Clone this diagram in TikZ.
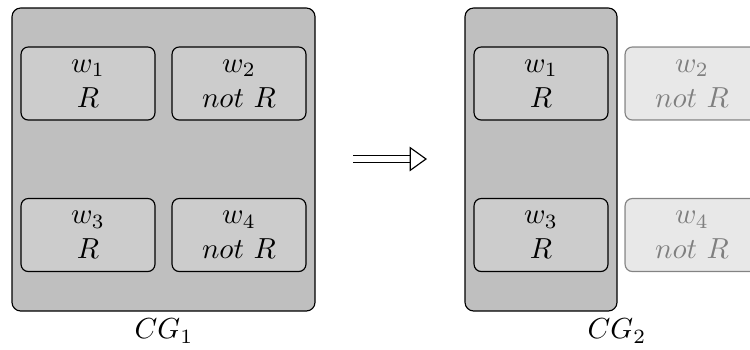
\documentclass[tikz,border=0pt]{standalone}
\usepackage{amsmath}
\usepackage{tikz}
\usetikzlibrary{arrows.meta,positioning,calc}

\tikzset{world/.style={draw, rounded corners=2.5pt, fill=gray!40, minimum width=46.2pt, minimum height=25.2pt, align=center, inner sep=0pt},
  faded/.style={world, opacity=0.45},
  graphbox/.style={draw, rounded corners=3pt, fill=gray!50}}

\begin{document}
\begin{tikzpicture}[x=0.345pt, y=-0.345pt]
\useasboundingbox (0,0) rectangle (750,349);

\draw[graphbox] (12,8) rectangle (315,311);
\draw[graphbox] (465,8) rectangle (617,311);

\foreach \w/\x/\y/\t in {1/88/83.5/R,2/239/83.5/not\ R,3/88/235/R,4/239/235/not\ R} {
\node[world] (a\w) at (\x,\y) {$w_{\w}$\\$\t$};
}
\foreach \w/\x/\y in {1/541/83.5,3/541/235} \node[world] (b\w) at (\x,\y) {$w_{\w}$\\$R$};
\foreach \w/\x/\y in {2/692/83.5,4/692/235} \node[faded] (b\w) at (\x,\y) {$w_{\w}$\\$not\ R$};

\node (cg1) at (164,331) {$CG_1$};
\node (cg2) at (617,331) {$CG_2$};

\coordinate (from) at (353,159);
\coordinate (to) at (427,159);
\draw[double, double distance=2pt, -{Triangle[open, length=6pt, width=8.5pt]}] (from) -- (to);
\end{tikzpicture}
\end{document}
